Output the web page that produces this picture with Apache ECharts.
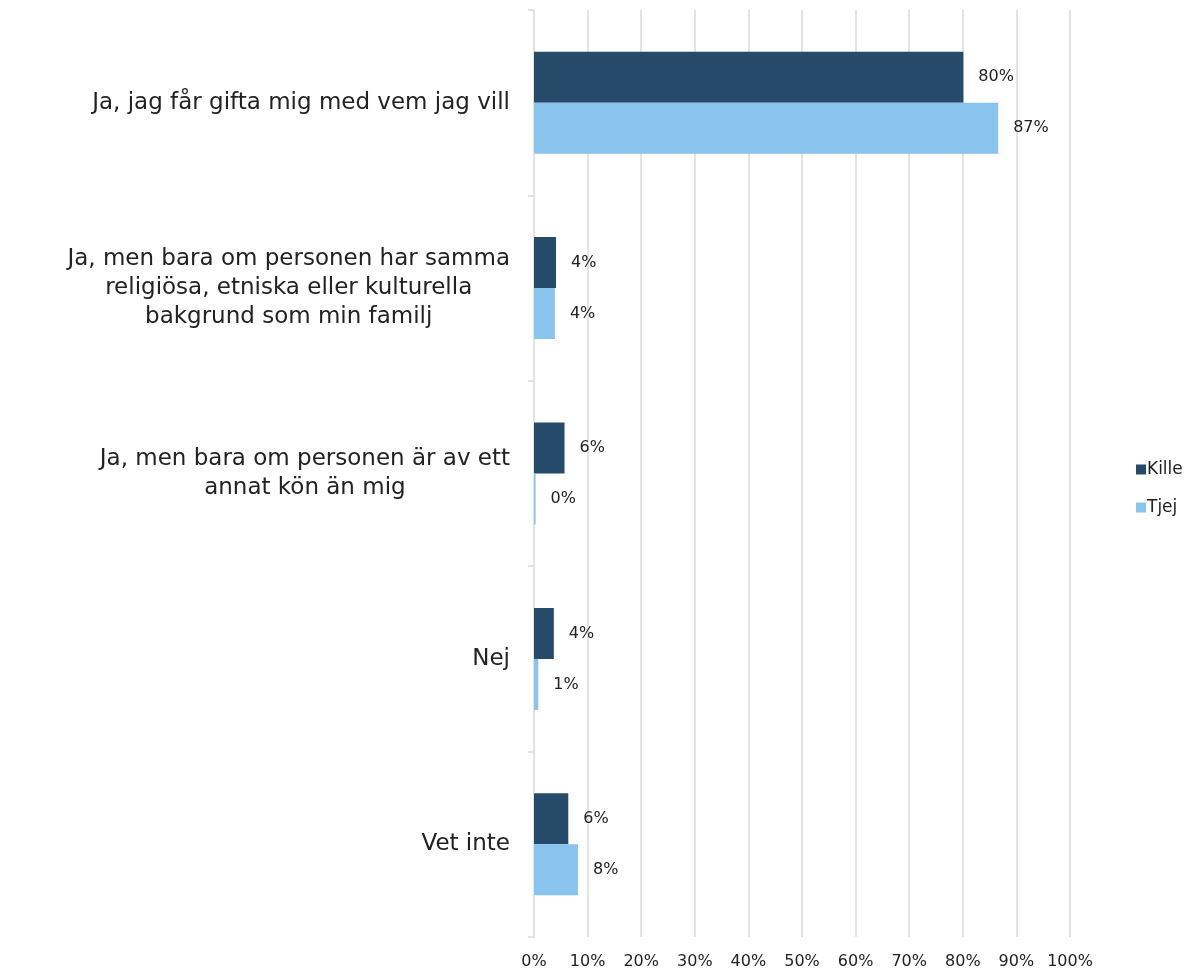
<!DOCTYPE html>
<html>
<head>
<meta charset="utf-8">
<script src="https://cdn.jsdelivr.net/npm/echarts@6/dist/echarts.min.js"></script>
<style>
  html, body { margin: 0; padding: 0; background: #fff; }
  #chart { width: 1195px; height: 971px; }
</style>
</head>
<body>
<div id="chart"></div>
<script>
const categories = [
  'Ja, jag får gifta mig med vem jag vill',
  'Ja, men bara om personen har samma\nreligiösa, etniska eller kulturella\nbakgrund som min familj',
  'Ja, men bara om personen är av ett\nannat kön än mig',
  'Nej',
  'Vet inte'
];
const kille = [80.1, 4.1, 5.7, 3.7, 6.4];
const tjej = [86.6, 3.9, 0.3, 0.8, 8.2];
const xTicks = [0, 10, 20, 30, 40, 50, 60, 70, 80, 90, 100];

const FONT = 'DejaVu Sans';
const GRID = '#e3e3e3';
const TEXT = '#222';

const chart = echarts.init(document.getElementById('chart'));

const labelOpts = {
  show: true,
  position: 'right',
  distance: 15,
  color: TEXT,
  fontFamily: FONT,
  fontSize: 16,
  formatter: (p) => Math.round(p.value) + '%'
};

chart.setOption({
  animation: false,
  textStyle: { fontFamily: FONT },
  grid: { left: 534, right: 125, top: 10, bottom: 34 },
  legend: {
    orient: 'vertical',
    left: 1131,
    top: 456,
    itemWidth: 10,
    itemHeight: 10,
    itemGap: 21,
    icon: 'rect',
    textStyle: { fontFamily: FONT, fontSize: 17, color: TEXT, padding: [0, 0, 0, -4] },
    data: ['Kille', 'Tjej']
  },
  xAxis: {
    type: 'value',
    min: 0,
    max: 100,
    interval: 10,
    axisLine: { show: false },
    axisTick: { show: false },
    splitLine: { lineStyle: { color: GRID, width: 2 } },
    axisLabel: {
      margin: 17,
      color: TEXT,
      fontFamily: FONT,
      fontSize: 16,
      formatter: (v) => (xTicks.includes(v) ? v + '%' : '')
    }
  },
  yAxis: {
    type: 'category',
    inverse: true,
    data: categories,
    axisLine: { lineStyle: { color: GRID, width: 2 } },
    axisTick: { show: true, length: 6, lineStyle: { color: GRID, width: 2 } },
    axisLabel: {
      margin: 24,
      color: TEXT,
      formatter: (v) => v.split('\n').map((l) => '{c|' + l + '}').join('\n'),
      rich: {
        c: { align: 'center', fontFamily: FONT, fontSize: 23, lineHeight: 29, color: TEXT }
      }
    }
  },
  series: [
    {
      name: 'Kille',
      type: 'bar',
      data: kille,
      barGap: 0,
      barCategoryGap: '45%',
      itemStyle: { color: '#264a69' },
      label: labelOpts
    },
    {
      name: 'Tjej',
      type: 'bar',
      data: tjej,
      itemStyle: { color: '#88c4ee' },
      label: labelOpts
    }
  ]
});
</script>
</body>
</html>
